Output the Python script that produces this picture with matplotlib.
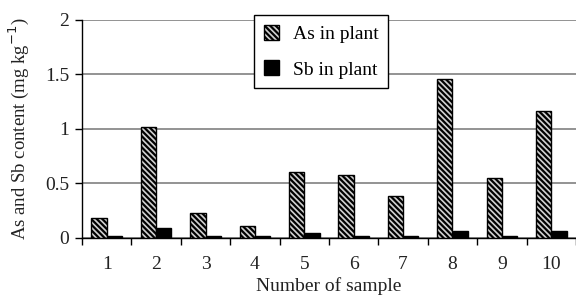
import matplotlib
matplotlib.use("Agg")
import matplotlib.pyplot as plt
import numpy as np

samples = ["1", "2", "3", "4", "5", "6", "7", "8", "9", "10"]
as_plant = [0.18, 1.02, 0.23, 0.11, 0.60, 0.58, 0.38, 1.46, 0.55, 1.16]
sb_plant = [0.02, 0.09, 0.02, 0.02, 0.04, 0.02, 0.02, 0.06, 0.02, 0.06]
yticks = [0, 0.5, 1, 1.5, 2]
ytick_labels = ["0", "0.5", "1", "1.5", "2"]

plt.rcParams['font.family'] = ['Liberation Serif', 'DejaVu Serif']
plt.rcParams['hatch.linewidth'] = 1.6

FS = 14

fig = plt.figure(figsize=(5.76, 3.01), dpi=100)
ax = fig.add_axes([82/576, 63.3/301, 1 - 82/576, (237.7 - 20)/301])

x = np.arange(len(samples))
w = 0.31
ax.bar(x - w/2, as_plant, width=w, facecolor='#d0d0d0', edgecolor='black',
       hatch='\\\\\\\\\\\\', linewidth=1.0, label='As in plant', zorder=3)
ax.bar(x + w/2, sb_plant, width=w, facecolor='black', edgecolor='black',
       linewidth=1.0, label='Sb in plant', zorder=3)

ax.set_ylim(0, 2)
ax.set_xlim(-0.5, -0.5 + 494/50)
ax.set_yticks(yticks)
ax.set_yticklabels(ytick_labels)
ax.yaxis.grid(True, color='#808080', linewidth=1.2, zorder=0)
ax.set_axisbelow(True)

ax.set_xticks(x)
ax.set_xticklabels(samples)
ax.set_xticks(np.arange(-0.5, 9.6, 1), minor=True)
ax.tick_params(axis='x', which='major', length=0, pad=13, labelsize=FS, labelcolor='#222222')
ax.tick_params(axis='x', which='minor', length=5, direction='out', width=1)
ax.tick_params(axis='y', length=5, direction='out', width=1, labelsize=FS, pad=4, labelcolor='#222222')

for s in ['top', 'right']:
    ax.spines[s].set_visible(False)
ax.spines['left'].set_linewidth(1.0)
ax.spines['bottom'].set_linewidth(1.0)

ax.set_xlabel('Number of sample', fontsize=FS, labelpad=3, color='#222222')
ax.set_ylabel('As and Sb content (mg kg$^{-1}$)', fontsize=13.5, color='#222222')
ax.yaxis.set_label_coords(-51/494, 0.5)

leg = ax.legend(loc='upper left', bbox_to_anchor=(254/576, 1 - 15/301),
                bbox_transform=fig.transFigure, fontsize=FS, frameon=True,
                fancybox=False, edgecolor='black', framealpha=1,
                handlelength=0.8, handleheight=0.8, labelspacing=0.9,
                borderpad=0.5, handletextpad=0.7, borderaxespad=0)
leg.get_frame().set_linewidth(1.0)
leg.set_zorder(5)

fig.savefig('out.png', dpi=100)
